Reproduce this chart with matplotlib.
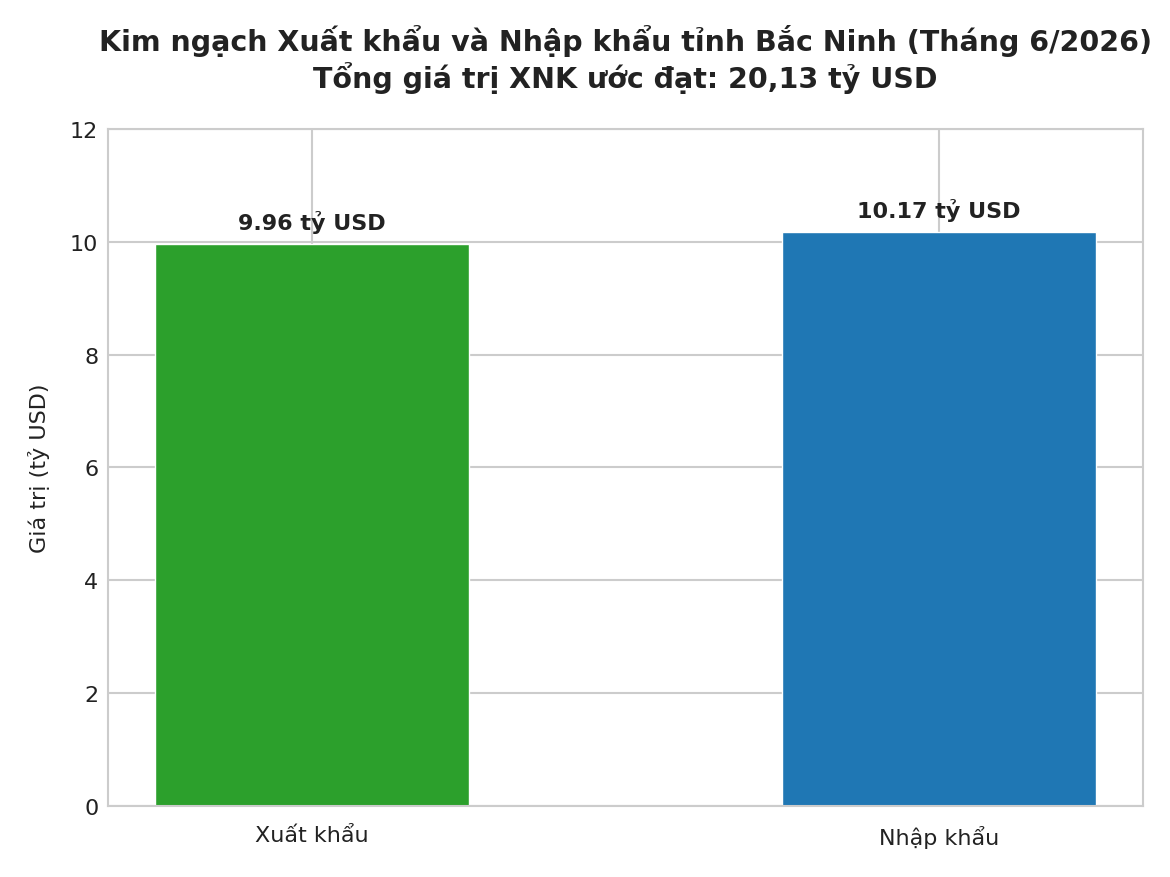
import matplotlib
matplotlib.use('Agg')
import matplotlib.pyplot as plt
import seaborn as sns

categories = ['Xuất khẩu', 'Nhập khẩu']
values = [9.96, 10.17]
bar_colors = ['#2ca02c', '#1f77b4']
title = 'Kim ngạch Xuất khẩu và Nhập khẩu tỉnh Bắc Ninh (Tháng 6/2026)\nTổng giá trị XNK ước đạt: 20,13 tỷ USD'

sns.set_style('whitegrid')
plt.rcParams['font.family'] = ['DejaVu Sans']

fig = plt.figure(figsize=(11.7, 8.78), dpi=100)
ax = fig.add_axes([0.0923, 0.081, 0.8847, 0.771])

x = range(len(categories))
ax.bar(x, values, width=0.5, color=bar_colors, edgecolor='white', linewidth=1)

for i, v in enumerate(values):
    ax.text(i, v + 0.2, f'{v:.2f} tỷ USD', ha='center', va='bottom',
            fontsize=16, fontweight='bold', color='#222222')

ax.set_xticks(list(x))
ax.set_xticklabels(categories, fontsize=16, color='#222222')
ax.tick_params(axis='x', pad=10)
ax.set_ylim(0, 12)
ax.set_yticks([0, 2, 4, 6, 8, 10, 12])
ax.tick_params(axis='y', labelsize=16, colors='#222222')
ax.set_ylabel('Giá trị (tỷ USD)', fontsize=16, color='#222222', labelpad=14)
ax.set_title(title, fontsize=20.5, fontweight='bold', color='#222222', pad=30)

for s in ax.spines.values():
    s.set_color('#cccccc')
    s.set_linewidth(1.5)
ax.grid(color='#cccccc', linewidth=1.5)
ax.set_axisbelow(True)

fig.savefig('out.png', dpi=100)
